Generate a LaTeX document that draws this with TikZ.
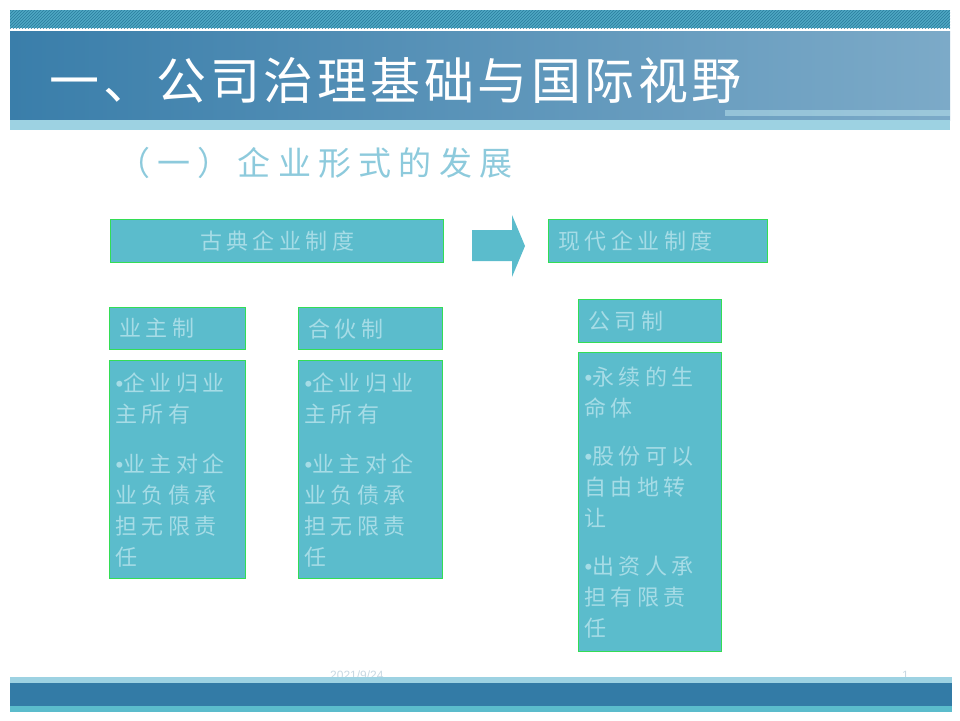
\documentclass[tikz,border=0pt]{standalone}
\usepackage{fontspec}
\setmainfont{Liberation Sans}
\newfontfamily\cjktitle[LetterSpace=7]{Noto Sans CJK SC}
\newfontfamily\cjksub[LetterSpace=22]{Noto Sans CJK SC}
\newfontfamily\cjkbox[LetterSpace=20]{Noto Sans CJK SC}
\newfontfamily\latinbul{Liberation Sans}
\newcommand{\bul}{{\latinbul•}}
\usetikzlibrary{patterns}

\definecolor{boxfill}{HTML}{5BBCCC}
\definecolor{boxline}{HTML}{33DD55}
\definecolor{boxtext}{HTML}{A6DCE6}
\definecolor{bandleft}{HTML}{3A7EAA}
\definecolor{bandright}{HTML}{7CAAC8}
\definecolor{stripe}{HTML}{9DD2E2}
\definecolor{hatchbg}{HTML}{4FA8C4}
\definecolor{hatchline}{HTML}{2A7C9C}
\definecolor{footdark}{HTML}{337BA6}
\definecolor{subtitle}{HTML}{8DCADC}
\definecolor{datetext}{HTML}{C8D8E2}

\begin{document}
\begin{tikzpicture}[x=1pt,y=-1pt,
    formbox/.style={draw=boxline, line width=1.2pt, fill=boxfill, rectangle, anchor=north west,
                    text=boxtext, font=\cjkbox\fontsize{22}{31}\selectfont, inner xsep=10pt, inner ysep=0pt},
    headbox/.style={formbox, align=left},
    listbox/.style={formbox, align=left}]
    \useasboundingbox (0,0) rectangle (960,720);

    % Top band with hatching
    \fill[hatchbg] (10,10) rectangle (950,28);
    \fill[pattern=north east lines, pattern color=hatchline] (10,10) rectangle (950,28);

    % Title band
    \shade[left color=bandleft, right color=bandright] (10,31) rectangle (950,120);
    \fill[stripe!80!white, opacity=0.6] (725,110) rectangle (950,116);
    \fill[stripe] (10,120) rectangle (950,130);
    \node[anchor=west, text=white, font=\cjktitle\fontsize{50}{56}\selectfont] (title) at (46,80) {一、公司治理基础与国际视野};

    % Subtitle
    \node[anchor=west, text=subtitle, font=\cjksub\fontsize{33}{36}\selectfont, inner sep=0pt] (subtitle) at (117,163) {（一）企业形式的发展};

    % Two systems
    \node[formbox, minimum width=333pt, minimum height=43pt] (classic) at (110,219) {古典企业制度};
    \node[headbox, minimum width=219pt, minimum height=43pt, text width=199pt] (modern) at (548,219) {现代企业制度};

    % Big arrow between them
    \fill[boxfill] (472,230) -- (512,230) -- (512,215) -- (525,246) -- (512,277) -- (512,261) -- (472,261) -- cycle;

    % Forms of enterprise
    \node[headbox, minimum width=136pt, minimum height=42pt, text width=116pt] (sole) at (109,307) {业主制};
    \node[headbox, minimum width=144pt, minimum height=42pt, text width=124pt] (partner) at (298,307) {合伙制};
    \node[headbox, minimum width=143pt, minimum height=43pt, text width=123pt] (corp) at (578,299) {公司制};

    % Features of each form
    \node[listbox, minimum width=136pt, minimum height=218pt, text width=124pt, inner xsep=6pt] (solelist) at (109,360)
        {\bul 企业归业\\主所有\\[19pt]\bul 业主对企\\业负债承\\担无限责\\任};
    \node[listbox, minimum width=144pt, minimum height=218pt, text width=132pt, inner xsep=6pt] (partnerlist) at (298,360)
        {\bul 企业归业\\主所有\\[19pt]\bul 业主对企\\业负债承\\担无限责\\任};
    \node[listbox, minimum width=143pt, minimum height=299pt, text width=131pt, inner xsep=6pt] (corplist) at (578,352)
        {\bul 永续的生\\命体\\[17pt]\bul 股份可以\\自由地转\\让\\[17pt]\bul 出资人承\\担有限责\\任};

    % Footer
    \node[anchor=west, text=datetext, font=\fontsize{12}{13}\selectfont, inner sep=0pt] (date) at (330,675) {2021/9/24};
    \node[anchor=east, text=datetext, font=\fontsize{12}{13}\selectfont, inner sep=0pt] (page) at (909,675) {1};
    \fill[stripe] (10,677) rectangle (952,683);
    \fill[footdark] (10,683) rectangle (952,706);
    \fill[boxfill] (10,706) rectangle (952,712);
\end{tikzpicture}
\end{document}
